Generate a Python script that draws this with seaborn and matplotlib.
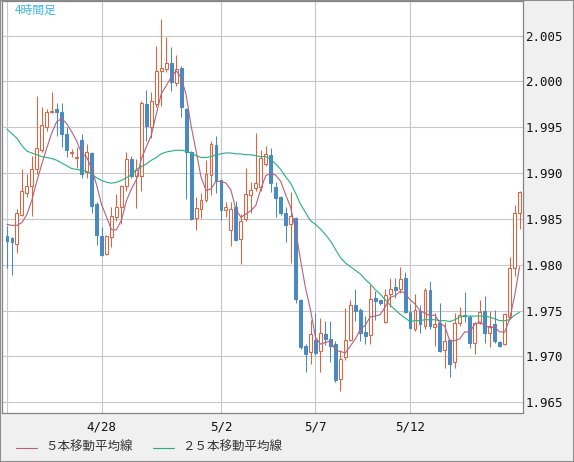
import numpy as np
import pandas as pd
import seaborn as sns
import matplotlib
matplotlib.use("Agg")
import matplotlib.pyplot as plt
from matplotlib.lines import Line2D
from matplotlib.patches import Rectangle

# 4-hour candles (104 bars)
opens = [1.9831, 1.9829, 1.9823, 1.9854, 1.9878, 1.9886, 1.9904, 1.9925, 1.9950, 1.9967,
         1.9970, 1.9967, 1.9943, 1.9922, 1.9917, 1.9936, 1.9901, 1.9922, 1.9866, 1.9831,
         1.9812, 1.9830, 1.9852, 1.9863, 1.9886, 1.9915, 1.9897, 1.9897, 1.9975, 1.9950,
         1.9975, 2.0011, 2.0014, 2.0020, 1.9998, 2.0015, 1.9970, 1.9923, 1.9851, 1.9861,
         1.9871, 1.9898, 1.9931, 1.9892, 1.9860, 1.9838, 1.9863, 1.9828, 1.9850, 1.9876,
         1.9884, 1.9885, 1.9910, 1.9920, 1.9885, 1.9874, 1.9857, 1.9845, 1.9851, 1.9762,
         1.9711, 1.9705, 1.9718, 1.9706, 1.9724, 1.9719, 1.9713, 1.9675, 1.9699, 1.9718,
         1.9756, 1.9751, 1.9727, 1.9723, 1.9764, 1.9761, 1.9737, 1.9768, 1.9776, 1.9773,
         1.9785, 1.9748, 1.9730, 1.9749, 1.9733, 1.9772, 1.9732, 1.9736, 1.9707, 1.9718,
         1.9694, 1.9736, 1.9745, 1.9743, 1.9715, 1.9736, 1.9749, 1.9726, 1.9735, 1.9716,
         1.9713, 1.9743, 1.9796, 1.9857]
highs = [1.9842, 1.9830, 1.9861, 1.9904, 1.9899, 1.9919, 1.9984, 1.9972, 1.9970, 1.9989,
         1.9976, 1.9977, 1.9950, 1.9926, 1.9928, 1.9943, 1.9932, 1.9923, 1.9868, 1.9841,
         1.9832, 1.9863, 1.9877, 1.9887, 1.9923, 1.9919, 1.9915, 1.9979, 1.9991, 1.9989,
         2.0039, 2.0068, 2.0049, 2.0038, 2.0029, 2.0017, 1.9971, 1.9924, 1.9874, 1.9878,
         1.9914, 1.9935, 1.9940, 1.9893, 1.9868, 1.9868, 1.9870, 1.9855, 1.9906, 1.9890,
         1.9944, 1.9925, 1.9930, 1.9927, 1.9890, 1.9875, 1.9863, 1.9879, 1.9852, 1.9763,
         1.9714, 1.9740, 1.9747, 1.9742, 1.9739, 1.9739, 1.9717, 1.9707, 1.9753, 1.9762,
         1.9773, 1.9753, 1.9744, 1.9779, 1.9771, 1.9762, 1.9774, 1.9786, 1.9785, 1.9797,
         1.9792, 1.9757, 1.9768, 1.9756, 1.9775, 1.9782, 1.9747, 1.9758, 1.9737, 1.9719,
         1.9747, 1.9754, 1.9770, 1.9745, 1.9737, 1.9762, 1.9766, 1.9750, 1.9751, 1.9717,
         1.9747, 1.9809, 1.9865, 1.9881]
lows = [1.9796, 1.9789, 1.9813, 1.9853, 1.9874, 1.9853, 1.9899, 1.9923, 1.9946, 1.9966,
        1.9941, 1.9928, 1.9918, 1.9918, 1.9906, 1.9895, 1.9895, 1.9857, 1.9822, 1.9810,
        1.9811, 1.9819, 1.9848, 1.9845, 1.9881, 1.9895, 1.9862, 1.9881, 1.9935, 1.9938,
        1.9972, 1.9973, 2.0010, 1.9990, 1.9995, 1.9961, 1.9872, 1.9849, 1.9838, 1.9851,
        1.9869, 1.9876, 1.9878, 1.9849, 1.9852, 1.9820, 1.9826, 1.9801, 1.9848, 1.9857,
        1.9881, 1.9881, 1.9908, 1.9879, 1.9852, 1.9854, 1.9825, 1.9802, 1.9758, 1.9708,
        1.9683, 1.9692, 1.9701, 1.9683, 1.9712, 1.9694, 1.9672, 1.9662, 1.9696, 1.9717,
        1.9739, 1.9717, 1.9714, 1.9713, 1.9740, 1.9756, 1.9736, 1.9754, 1.9764, 1.9769,
        1.9747, 1.9730, 1.9728, 1.9726, 1.9730, 1.9730, 1.9711, 1.9705, 1.9687, 1.9677,
        1.9687, 1.9733, 1.9737, 1.9709, 1.9703, 1.9735, 1.9715, 1.9710, 1.9715, 1.9710,
        1.9712, 1.9741, 1.9788, 1.9839]
closes = [1.9826, 1.9825, 1.9857, 1.9880, 1.9886, 1.9905, 1.9927, 1.9952, 1.9967, 1.9968,
          1.9967, 1.9943, 1.9925, 1.9923, 1.9918, 1.9899, 1.9923, 1.9864, 1.9832, 1.9811,
          1.9831, 1.9853, 1.9863, 1.9886, 1.9915, 1.9897, 1.9903, 1.9977, 1.9951, 1.9979,
          2.0011, 2.0015, 2.0020, 1.9999, 2.0014, 1.9972, 1.9923, 1.9850, 1.9862, 1.9871,
          1.9899, 1.9932, 1.9892, 1.9860, 1.9863, 1.9861, 1.9827, 1.9848, 1.9877, 1.9882,
          1.9889, 1.9917, 1.9921, 1.9889, 1.9873, 1.9856, 1.9843, 1.9853, 1.9763, 1.9710,
          1.9703, 1.9724, 1.9704, 1.9726, 1.9719, 1.9711, 1.9674, 1.9697, 1.9718, 1.9756,
          1.9750, 1.9725, 1.9722, 1.9763, 1.9760, 1.9758, 1.9767, 1.9774, 1.9772, 1.9784,
          1.9748, 1.9731, 1.9751, 1.9735, 1.9772, 1.9733, 1.9735, 1.9706, 1.9717, 1.9692,
          1.9736, 1.9745, 1.9744, 1.9715, 1.9736, 1.9748, 1.9725, 1.9733, 1.9717, 1.9711,
          1.9746, 1.9796, 1.9857, 1.9879]

# 25-bar moving average as drawn (it starts before the visible window)
ma25 = [1.9948, 1.9943, 1.9938, 1.9930, 1.9924, 1.9922, 1.9920, 1.9918, 1.9917, 1.9916,
        1.9914, 1.9911, 1.9908, 1.9905, 1.9904, 1.9903, 1.9902, 1.9899, 1.9895, 1.9892,
        1.9890, 1.9889, 1.9890, 1.9892, 1.9895, 1.9898, 1.9904, 1.9907, 1.9910, 1.9914,
        1.9917, 1.9921, 1.9923, 1.9924, 1.9925, 1.9925, 1.9924, 1.9922, 1.9919, 1.9917,
        1.9917, 1.9918, 1.9920, 1.9921, 1.9922, 1.9922, 1.9921, 1.9921, 1.9920, 1.9920,
        1.9919, 1.9918, 1.9918, 1.9915, 1.9910, 1.9904, 1.9896, 1.9889, 1.9878, 1.9866,
        1.9857, 1.9848, 1.9844, 1.9839, 1.9833, 1.9826, 1.9817, 1.9808, 1.9802, 1.9798,
        1.9794, 1.9790, 1.9784, 1.9779, 1.9773, 1.9768, 1.9762, 1.9756, 1.9751, 1.9746,
        1.9742, 1.9738, 1.9739, 1.9739, 1.9740, 1.9740, 1.9740, 1.9739, 1.9739, 1.9738,
        1.9740, 1.9743, 1.9744, 1.9744, 1.9744, 1.9744, 1.9744, 1.9743, 1.9741, 1.9739,
        1.9739, 1.9740, 1.9745, 1.9748]
# first four points of the 5-bar MA (need bars before the window)
ma5_head = [1.9844, 1.9843, 1.9843, 1.9846]

tick_pos = [0, 19, 43, 62, 81]
tick_labels = ["", "4/28", "5/2", "5/7", "5/12"]
price_ticks = [1.965, 1.970, 1.975, 1.980, 1.985, 1.990, 1.995, 2.000, 2.005]

df = pd.DataFrame({"open": opens, "high": highs, "low": lows, "close": closes, "ma25": ma25})
df["idx"] = np.arange(len(df))
ma5 = df["close"].rolling(5).mean()
ma5.iloc[:4] = ma5_head
df["ma5"] = ma5

UP = "#e0633f"
DOWN = "#4a8ac2"
PINK = "#b5607f"
GREEN = "#27b07a"

sns.set_style("white")
plt.rcParams["font.family"] = ["Noto Sans CJK JP", "DejaVu Sans"]

W, H = 574, 462
fig = plt.figure(figsize=(W / 100, H / 100), dpi=100)
fig.patch.set_facecolor("#f0f0f0")

# plot area: x 1.5..523, y 0.5..412.5 (pixels)
ax = fig.add_axes([1.5 / W, 1 - 412.5 / H, (523 - 1.5) / W, 412 / H])
ax.set_facecolor("white")

up = df[df["close"] >= df["open"]]
dn = df[df["close"] < df["open"]]

ax.vlines(up["idx"], up["low"], up["high"], color=UP, lw=0.75, zorder=2)
ax.vlines(dn["idx"], dn["low"], dn["high"], color=DOWN, lw=0.75, zorder=2)
ax.bar(up["idx"], np.maximum(up["close"] - up["open"], 0.00004), bottom=up["open"],
       width=0.58, facecolor="white", edgecolor=UP, linewidth=0.75, zorder=3)
ax.bar(dn["idx"], np.maximum(dn["open"] - dn["close"], 0.00004), bottom=dn["close"],
       width=0.58, facecolor=DOWN, edgecolor=DOWN, linewidth=0.75, zorder=3)

sns.lineplot(data=df, x="idx", y="ma25", ax=ax, color=GREEN, linewidth=0.8, zorder=4)
sns.lineplot(data=df, x="idx", y="ma5", ax=ax, color=PINK, linewidth=0.8, zorder=4)

ax.set_xlim(-1.1, 103.7)
ax.set_ylim(1.963877, 2.008836)
ax.set_xlabel("")
ax.set_ylabel("")

ax.set_xticks(tick_pos)
ax.set_xticklabels(tick_labels)
ax.set_yticks(price_ticks)
ax.set_yticklabels([f"{v:.3f}" for v in price_ticks])
ax.yaxis.tick_right()
ax.tick_params(axis="y", length=0, pad=1.5, labelsize=9, labelcolor="#111111")
ax.tick_params(axis="x", length=0, pad=5.5, labelsize=9, labelcolor="#111111")
for lbl in ax.get_xticklabels() + ax.get_yticklabels():
    lbl.set_family("DejaVu Sans Mono")

ax.grid(True, color="#c8c8c8", linewidth=0.8, zorder=0)
ax.set_axisbelow(True)
for sp in ax.spines.values():
    sp.set_color("#858585")
    sp.set_linewidth(0.9)

# timeframe caption
fig.text(15 / W, 1 - 10.5 / H, "4時間足", color="#3ab6ee", fontsize=8.5,
         ha="left", va="center")

# legend row
ly = 1 - 447.5 / H
fig.add_artist(Line2D([16 / W, 37 / W], [ly, ly], color=PINK, lw=0.8, transform=fig.transFigure))
fig.text(45 / W, ly, "５本移動平均線", fontsize=9, color="#333333", ha="left", va="center")
fig.add_artist(Line2D([153 / W, 174 / W], [ly, ly], color=GREEN, lw=0.8, transform=fig.transFigure))
fig.text(182 / W, ly, "２５本移動平均線", fontsize=9, color="#333333", ha="left", va="center")

fig.add_artist(Rectangle((0, 0), 1, 1, transform=fig.transFigure, fill=False,
                         edgecolor="#8c8c8c", lw=1.5))

fig.savefig("out.png", dpi=100, facecolor=fig.get_facecolor())
